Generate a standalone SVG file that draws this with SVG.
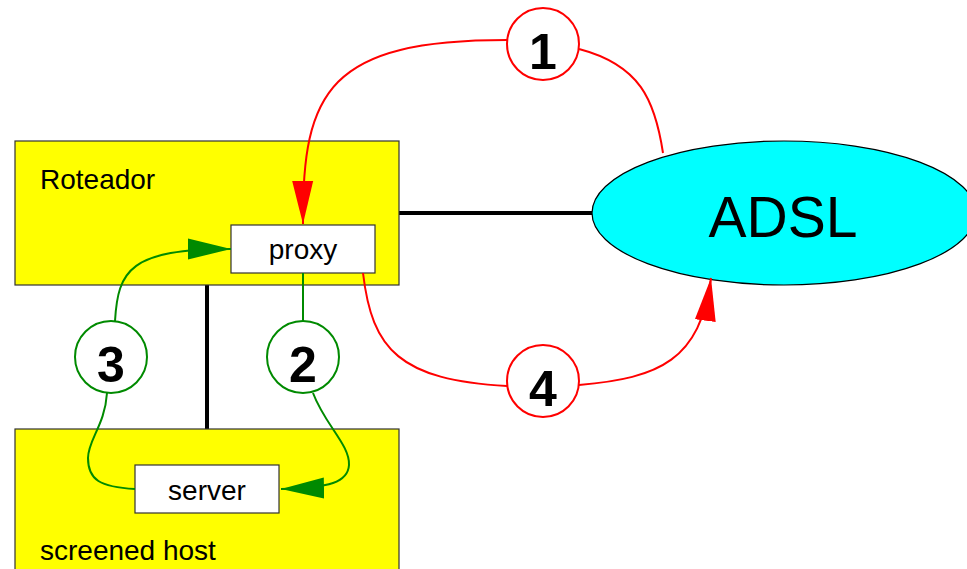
<svg xmlns="http://www.w3.org/2000/svg" width="967" height="569" viewBox="0 0 967 569">
<style>
.box{fill:#ffff00;stroke:#333;stroke-width:1.2}
.inner{fill:#fff;stroke:#333;stroke-width:1.2}
.lbl{font-family:"Liberation Sans",Arial,sans-serif;font-size:28px;fill:#000}
.num{font-family:"Liberation Sans",Arial,sans-serif;font-size:50px;font-weight:bold;fill:#000;text-anchor:middle}
.link{stroke:#000;stroke-width:4;fill:none}
.red{stroke:#ff0000;stroke-width:2;fill:none}
.green{stroke:#008a00;stroke-width:2;fill:none}
.cr{fill:#fff;stroke:#ff0000;stroke-width:2}
.cg{fill:#fff;stroke:#008a00;stroke-width:2}
</style>
<defs>
<marker id="ar" markerUnits="userSpaceOnUse" markerWidth="44" markerHeight="22" refX="43" refY="10.5" orient="auto" viewBox="0 0 44 21"><path d="M0 0 L43 10.5 L0 21 z" fill="#ff0000"/></marker>
<marker id="ag" markerUnits="userSpaceOnUse" markerWidth="44" markerHeight="22" refX="43" refY="10.5" orient="auto" viewBox="0 0 44 21"><path d="M0 0 L43 10.5 L0 21 z" fill="#008a00"/></marker>
</defs>
<g id="links">
<line class="link" x1="399" y1="213" x2="593" y2="213"/>
<line class="link" x1="207" y1="285" x2="207" y2="429"/>
</g>
<g id="roteador">
<rect class="box" x="15" y="141" width="384" height="144"/>
<text class="lbl" x="40" y="189">Roteador</text>
</g>
<g id="screened-host">
<rect class="box" x="15" y="429" width="384" height="160"/>
<text class="lbl" x="40" y="560">screened host</text>
</g>
<g id="proxy">
<rect class="inner" x="231" y="225" width="144" height="48"/>
<text class="lbl" x="303" y="259" text-anchor="middle">proxy</text>
</g>
<g id="server">
<rect class="inner" x="135" y="465" width="144" height="48"/>
<text class="lbl" x="207" y="500" text-anchor="middle">server</text>
</g>
<g id="adsl">
<ellipse cx="784" cy="213" rx="192" ry="72" fill="#00ffff" stroke="#000" stroke-width="1.2"/>
<text x="783" y="237" font-family="Liberation Sans, Arial, sans-serif" font-size="57" text-anchor="middle" fill="#000">ADSL</text>
</g>
<g id="connectors">
<path class="red" d="M663 153 C655 100 640 65 579 49"/>
<path class="red" d="M507 40 C330 40 302 90 303 224" marker-end="url(#ar)"/>
<path class="red" d="M363 273 C372 350 400 380 507 386"/>
<path class="red" d="M579 385 C660 378 700 360 711 278" marker-end="url(#ar)"/>
<path class="green" d="M303 273 L303 321"/>
<path class="green" d="M313 393 C325 425 350 445 349 465 C348 482 330 488 281 489" marker-end="url(#ag)"/>
<path class="green" d="M135 489 C100 487 88 480 88 458 C88 440 105 425 107 393"/>
<path class="green" d="M115 321 C118 270 130 249 231 249" marker-end="url(#ag)"/>
</g>
<g id="step1"><circle class="cr" cx="543" cy="44" r="36"/><text class="num" x="543" y="69">1</text></g>
<g id="step2"><circle class="cg" cx="303" cy="357" r="36"/><text class="num" x="303" y="382">2</text></g>
<g id="step3"><circle class="cg" cx="111" cy="357" r="36"/><text class="num" x="111" y="382">3</text></g>
<g id="step4"><circle class="cr" cx="543" cy="381" r="36"/><text class="num" x="543" y="406">4</text></g>
</svg>
